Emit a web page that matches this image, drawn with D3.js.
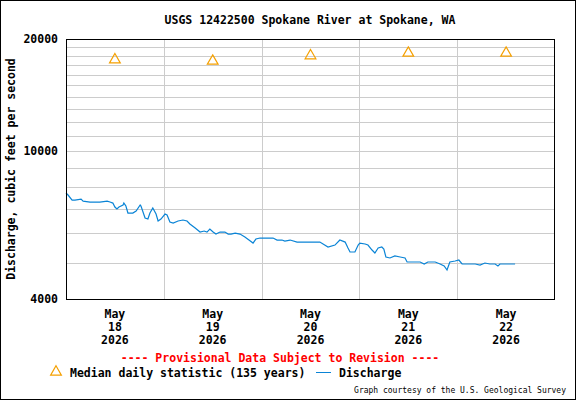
<!DOCTYPE html><html><head><meta charset="utf-8">
<script src="https://cdn.jsdelivr.net/npm/d3@7"></script>
<style>body{margin:0;background:#fff}text{font-family:"DejaVu Sans Mono",monospace;font-weight:bold}</style></head><body>
<svg id="c" width="576" height="400"></svg>
<script>
const hours=[0,0.5,1.5,2.2,3.7,4.2,5.9,8.3,10.1,10.8,11.5,12.0,12.5,13.0,14.0,14.2,14.7,15.2,16.4,17.2,18.2,18.4,19.4,20.1,20.6,21.3,22.1,22.6,23.3,24.3,24.8,25.5,26.3,27.5,28.7,29.7,30.4,31.7,32.9,33.9,34.6,35.3,36.1,36.8,37.8,39.0,39.8,40.5,41.5,42.7,43.9,44.9,45.9,46.6,47.6,50.8,51.8,53.0,53.7,55.0,56.7,58.2,59.9,61.1,62.3,64.3,66.0,67.2,68.5,69.2,69.7,70.9,71.7,72.1,73.4,74.1,75.1,75.8,76.6,77.5,78.0,78.5,79.5,80.7,82.0,83.2,83.7,85.2,86.9,87.9,88.8,90.6,91.8,92.8,93.5,94.2,95.5,96.4,97.2,99.1,100.4,101.6,102.8,104.0,105.3,106.0,106.5,107.7,109.0,110.2];
const discharge=[7710,7614,7380,7380,7426,7334,7290,7290,7334,7290,7244,7068,6982,7068,7156,7244,7112,6810,6810,6896,7156,7112,6602,6562,6810,7024,6768,6482,6562,6768,6726,6442,6402,6482,6522,6482,6362,6206,6054,6092,6054,6168,6054,5980,6054,6054,5980,5980,6016,5980,5870,5762,5656,5798,5834,5834,5762,5762,5726,5762,5690,5690,5690,5690,5690,5518,5586,5762,5690,5484,5350,5350,5586,5656,5622,5586,5416,5318,5484,5518,5450,5188,5156,5220,5188,5156,5030,5030,5030,4968,5030,5030,4968,4906,4786,5030,5060,5092,4968,4968,4968,4936,4998,4968,4968,4906,4968,4968,4968,4968];
const medianDays=[18,19,20,21,22];
const medianValues=[17700,17550,18150,18450,18450];
const yTicks=[4000,10000,20000];
const title="USGS 12422500 Spokane River at Spokane, WA";

const svg=d3.select("#c");
const L=66,R=555,T=39,B=299,FS=11.5;
svg.append("rect").attr("x",0.5).attr("y",0.5).attr("width",575).attr("height",399).attr("fill","#fff").attr("stroke","#000");
const t0=new Date(2026,4,18);
const x=d3.scaleTime().domain([t0,new Date(2026,4,23)]).range([L,R]);
const y=d3.scaleLog().domain([4000,20000]).range([B,T]);
const g=svg.append("g");
d3.range(5000,20000,1000).forEach(v=>g.append("line").attr("x1",L).attr("x2",R).attr("y1",Math.round(y(v))+0.5).attr("y2",Math.round(y(v))+0.5).attr("stroke","#ccc"));
[19,20,21,22].forEach(d=>{const xx=Math.round(x(new Date(2026,4,d)))+0.5;g.append("line").attr("x1",xx).attr("x2",xx).attr("y1",T).attr("y2",B).attr("stroke","#ccc");});
const line=d3.line().x(d=>x(new Date(+t0+d[0]*3600e3))).y(d=>y(d[1]));
g.append("path").datum(hours.map((h,i)=>[h,discharge[i]])).attr("d",line).attr("fill","none").attr("stroke","#0a84d6").attr("stroke-width",1.2);
const tri=d3.symbol().type(d3.symbolTriangle).size(50);
medianDays.forEach((d,i)=>g.append("path").attr("d",tri).attr("transform",`translate(${x(new Date(2026,4,d,12))},${y(medianValues[i])+1})`).attr("fill","none").attr("stroke","#f5a000").attr("stroke-width",1.2));
svg.append("rect").attr("x",L+0.5).attr("y",T+0.5).attr("width",R-L-1).attr("height",B-T).attr("fill","none").attr("stroke","#000");
yTicks.forEach(v=>svg.append("text").attr("x",58).attr("y",y(v)+4).attr("text-anchor","end").attr("font-size",FS).text(v));
medianDays.forEach(d=>{const xx=x(new Date(2026,4,d,12));["May",d,"2026"].forEach((s,j)=>svg.append("text").attr("x",xx).attr("y",318+j*13).attr("text-anchor","middle").attr("font-size",FS).text(s));});
svg.append("text").attr("x",310).attr("y",24).attr("text-anchor","middle").attr("font-size",FS).text(title);
svg.append("text").attr("transform","translate(15,169) rotate(-90)").attr("text-anchor","middle").attr("font-size",FS).text("Discharge, cubic feet per second");
svg.append("text").attr("x",280).attr("y",362).attr("text-anchor","middle").attr("font-size",FS).attr("fill","#f00").text("---- Provisional Data Subject to Revision ----");
svg.append("path").attr("d",tri).attr("transform","translate(56,372)").attr("fill","none").attr("stroke","#f5a000").attr("stroke-width",1.2);
svg.append("text").attr("x",70).attr("y",377).attr("font-size",FS).text("Median daily statistic (135 years)");
svg.append("line").attr("x1",316).attr("x2",331).attr("y1",372.5).attr("y2",372.5).attr("stroke","#0a84d6");
svg.append("text").attr("x",339).attr("y",377).attr("font-size",FS).text("Discharge");
svg.append("text").attr("x",566).attr("y",393).attr("text-anchor","end").attr("font-size",8).style("font-weight","normal").text("Graph courtesy of the U.S. Geological Survey");
</script></body></html>
